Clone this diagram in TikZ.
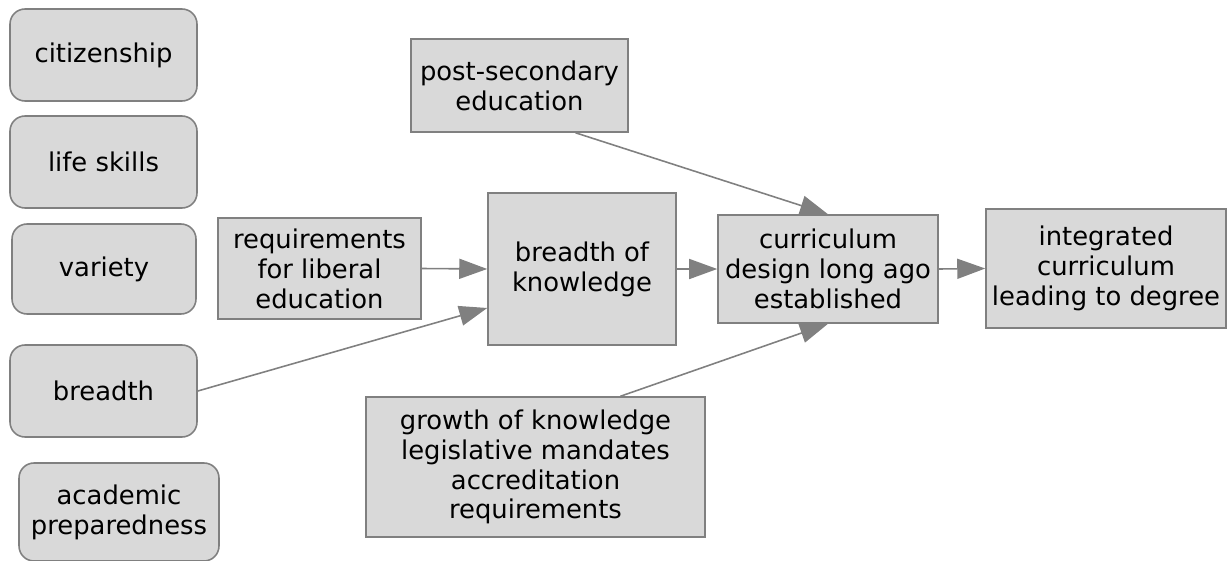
\documentclass[tikz,border=0pt]{standalone}
\usepackage{fontspec}
\setmainfont{DejaVu Sans}
\usepackage{tikz}
\usetikzlibrary{arrows.meta}

\definecolor{boxfill}{HTML}{D9D9D9}
\definecolor{boxline}{HTML}{808080}

\tikzset{
  box/.style={draw=boxline, fill=boxfill, line width=0.9pt, align=center,
    font=\fontsize{14.7}{17}\selectfont, inner sep=2pt},
  rbox/.style={box, rounded corners=0.3cm},
  link/.style={draw=boxline, line width=0.9pt,
    -{Triangle[length=0.56cm, width=0.4cm]}}
}

\begin{document}
\begin{tikzpicture}[x=0.02cm, y=-0.02cm]
        \useasboundingbox (0,0) rectangle (1227,561);
        % left column
        \node[rbox, minimum width=3.74cm, minimum height=1.84cm] (cit) at (103.5,55) {citizenship};
        \node[rbox, minimum width=3.74cm, minimum height=1.84cm] (life) at (103.5,162) {life skills};
        \node[rbox, minimum width=3.68cm, minimum height=1.80cm] (var) at (104,269) {variety};
        \node[rbox, minimum width=3.74cm, minimum height=1.84cm] (bre) at (103.5,391) {breadth};
        \node[rbox, minimum width=4.00cm, minimum height=1.96cm] (acad) at (119,512) {academic\\preparedness};
        % main chain
        \node[box, minimum width=4.34cm, minimum height=1.86cm] (post) at (519.5,85.5) {post-secondary\\education};
        \node[box, minimum width=4.06cm, minimum height=2.02cm] (req) at (319.5,268.5) {requirements\\for liberal\\education};
        \node[box, minimum width=3.76cm, minimum height=3.04cm] (bok) at (582,269) {breadth of\\knowledge};
        \node[box, minimum width=4.40cm, minimum height=2.16cm] (cur) at (828,269) {curriculum\\design long ago\\established};
        \node[box, minimum width=4.80cm, minimum height=2.38cm] (integ) at (1106,268.5) {integrated\\curriculum\\leading to degree};
        \node[box, minimum width=6.78cm, minimum height=2.80cm] (grow) at (535.5,467) {growth of knowledge\\legislative mandates\\accreditation\\requirements};
        % connectors
        \draw[link] (req.east) -- (bok.west);
        \draw[link] (bre.east) -- ([yshift=-0.78cm]bok.west);
        \draw[link] (bok.east) -- (cur.west);
        \draw[link] (cur.east) -- (integ.west);
        \draw[link] ([xshift=1.12cm]post.south) -- (cur.north);
        \draw[link] ([xshift=1.7cm]grow.north) -- (cur.south);
\end{tikzpicture}
\end{document}
